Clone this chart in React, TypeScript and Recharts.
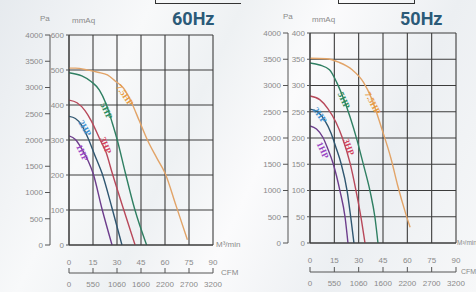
import { LineChart, Line, XAxis, YAxis, CartesianGrid, ReferenceDot } from "recharts";

// axis ticks
const flowTicks = [0, 15, 30, 45, 60, 75, 90];
const cfmLabels = ["0", "550", "1060", "1600", "2200", "2700", "3200"];
const paTicks = [0, 500, 1000, 1500, 2000, 2500, 3000, 3500, 4000];
const mmTicks60 = [0, 100, 200, 300, 400, 500, 600];
const mmTicks50 = [0, 50, 100, 150, 200, 250, 300, 350, 400];

// 60Hz curves, [m3/min, Pa]
const orange60 = [[0, 3370], [4, 3370], [12, 3330], [18, 3290], [24, 3240], [29, 3120], [34, 2990], [39, 2720], [44, 2360], [49, 2000], [55, 1650], [60, 1370], [67, 740], [74, 100]];
const green60 = [[0, 3280], [8, 3220], [14, 3110], [19, 2950], [23, 2700], [27, 2330], [30, 2020], [35, 1400], [41, 690], [48.5, 0]];
const red60 = [[0, 2760], [5, 2710], [10, 2560], [14, 2360], [19.5, 2000], [23, 1780], [27, 1370], [34, 690], [41.3, 0]];
const blue60 = [[0, 2450], [4, 2410], [8, 2280], [12, 2030], [16, 1720], [20.6, 1370], [27, 690], [33.1, 0]];
const purple60 = [[0, 2080], [4, 2010], [8, 1830], [12, 1600], [15, 1370], [20.6, 690], [26.9, 0]];

// 50Hz curves, [m3/min, Pa]
const orange50 = [[0, 3520], [10, 3510], [18, 3440], [26, 3300], [33, 3060], [38, 2750], [44, 2200], [50, 1600], [54, 1100], [59, 560], [61.7, 300]];
const green50 = [[0, 3430], [6, 3390], [12, 3300], [16.6, 3050], [20.3, 2780], [24.7, 2400], [29, 1960], [32.7, 1520], [37, 990], [40, 495], [41.9, 0]];
const red50 = [[0, 2800], [6, 2730], [11, 2560], [16, 2300], [20, 2000], [24.7, 1520], [28.4, 990], [31.4, 495], [33.9, 0]];
const blue50 = [[0, 2550], [5, 2490], [9, 2340], [13, 2090], [16, 1820], [19.1, 1520], [22.9, 990], [25.1, 495], [27.1, 0]];
const purple50 = [[0, 2230], [4, 2170], [8, 2010], [11, 1790], [14.2, 1520], [18.5, 990], [21.6, 495], [23.4, 0]];

// curve tags, [m3/min, Pa, angle]
const tags = ["7.5HP", "5HP", "3HP", "2HP", "1HP"];
const tagSpots60 = [[35, 2860, 55], [23.5, 2560, 65], [23, 1900, 68], [10, 2230, 60], [8.5, 1760, 65]];
const tagSpots50 = [[38.8, 2670, 62], [21, 2720, 65], [24, 1830, 70], [6.2, 2440, 55], [8, 1770, 65]];

const lineColors = ["#e2a468", "#2f7f62", "#b8485a", "#2f5670", "#6d3d8c"];
const tagColors = ["#e89a40", "#2a8a5a", "#d2405a", "#3a8fd0", "#9a44c4"];

const toPoints = (pairs: number[][]) => pairs.map(([q, p]) => ({ q, p }));

const font = "Liberation Sans Narrow, Liberation Sans, Arial, sans-serif";
const tickStyle = { fill: "#8a8a8a", fontSize: 8, fontFamily: font };
const axisColor = "#555";

function CfmTick(props: any) {
  const { x, y, index } = props;
  return (
    <g>
      <line x1={x} x2={x} y1={y - 5} y2={y} stroke={axisColor} strokeWidth={1} />
      <text x={x} y={y + 14} textAnchor="middle" {...tickStyle}>
        {cfmLabels[index]}
      </text>
    </g>
  );
}

interface FanChartProps {
  top: number;
  right: number;
  mmWidth: number;
  qHeight: number;
  cfmHeight: number;
  mmTicks: number[];
  curves: number[][][];
  tagSpots: number[][];
}

// axis ids sort alphabetically: the "a_" axes sit next to the plot
function FanChart({ top, right, mmWidth, qHeight, cfmHeight, mmTicks, curves, tagSpots }: FanChartProps) {
  return (
    <LineChart width={238} height={292} margin={{ top, right, left: 0, bottom: 0 }}>
      <CartesianGrid xAxisId="a_q" yAxisId="a_mm" stroke="#3c3c3c" strokeWidth={1.1} />
      <XAxis
        xAxisId="a_q"
        type="number"
        dataKey="q"
        domain={[0, 90]}
        ticks={flowTicks}
        height={qHeight}
        tickSize={0}
        tickMargin={14}
        tick={tickStyle}
        axisLine={{ stroke: "#3c3c3c" }}
        allowDataOverflow
      />
      <XAxis
        xAxisId="b_cfm"
        type="number"
        dataKey="q"
        domain={[0, 90]}
        ticks={flowTicks}
        height={cfmHeight}
        tickSize={0}
        tickMargin={0}
        tickLine={false}
        tick={<CfmTick />}
        axisLine={{ stroke: axisColor }}
        allowDataOverflow
      />
      <YAxis
        yAxisId="a_mm"
        type="number"
        domain={[mmTicks[0], mmTicks[mmTicks.length - 1]]}
        ticks={mmTicks}
        width={mmWidth}
        tickSize={3}
        tickMargin={2}
        tick={tickStyle}
        tickLine={{ stroke: axisColor }}
        axisLine={{ stroke: "#3c3c3c" }}
        allowDataOverflow
      />
      <YAxis
        yAxisId="b_pa"
        type="number"
        domain={[0, 4000]}
        ticks={paTicks}
        width={50}
        tickSize={5}
        tickMargin={2}
        tick={tickStyle}
        tickLine={{ stroke: axisColor }}
        axisLine={{ stroke: axisColor }}
        allowDataOverflow
      />
      {curves.map((c, i) => (
        <Line
          key={i}
          xAxisId="a_q"
          yAxisId="b_pa"
          data={toPoints(c)}
          dataKey="p"
          type="monotone"
          stroke={lineColors[i]}
          strokeWidth={1.4}
          dot={false}
          isAnimationActive={false}
        />
      ))}
      {tagSpots.map(([q, p, angle], i) => (
        <ReferenceDot
          key={"t" + i}
          xAxisId="a_q"
          yAxisId="b_pa"
          x={q}
          y={p}
          r={0}
          stroke="none"
          label={{ value: tags[i], angle, fill: tagColors[i], fontSize: 9, fontWeight: 700, position: "center" }}
        />
      ))}
    </LineChart>
  );
}

const small: React.CSSProperties = {
  position: "absolute",
  fontSize: 8,
  color: "#8a8a8a",
  fontFamily: font,
  whiteSpace: "nowrap",
  lineHeight: "10px",
};
const title: React.CSSProperties = {
  position: "absolute",
  fontSize: 18,
  fontWeight: 700,
  color: "#2b5a78",
  fontFamily: "Roboto, Liberation Sans, sans-serif",
  lineHeight: "18px",
};

export default function App() {
  return (
    <div
      style={{
        position: "relative",
        width: 476,
        height: 292,
        overflow: "hidden",
        background: "linear-gradient(115deg, #e6eaee 0%, #f8f9fa 25%, #eef1f3 40%, #fbfbfc 55%, #eceff2 75%, #f7f8f9 100%)",
      }}
    >
      <style>{`body{margin:0}`}</style>
      <div style={{ position: "absolute", left: 0, top: 0 }}>
        <FanChart top={35} right={25} mmWidth={19} qHeight={28} cfmHeight={19} mmTicks={mmTicks60}
          curves={[orange60, green60, red60, blue60, purple60]} tagSpots={tagSpots60} />
      </div>
      <div style={{ position: "absolute", left: 238, top: 0 }}>
        <FanChart top={33} right={20} mmWidth={22} qHeight={29} cfmHeight={20} mmTicks={mmTicks50}
          curves={[orange50, green50, red50, blue50, purple50]} tagSpots={tagSpots50} />
      </div>

      <div style={{ position: "absolute", left: 155, top: -2, width: 85, height: 5, borderBottom: "1.5px solid #333", borderLeft: "1px solid #333" }} />
      <div style={{ position: "absolute", left: 338, top: -2, width: 75, height: 5, borderBottom: "1.5px solid #333", borderLeft: "1px solid #333", borderRight: "1px solid #333" }} />

      <div style={{ ...title, left: 172, top: 10 }}>60Hz</div>
      <div style={{ ...title, left: 400, top: 10 }}>50Hz</div>

      <div style={{ ...small, left: 40, top: 14 }}>Pa</div>
      <div style={{ ...small, left: 72, top: 16 }}>mmAq</div>
      <div style={{ ...small, left: 283, top: 12 }}>Pa</div>
      <div style={{ ...small, left: 312, top: 15 }}>mmAq</div>

      <div style={{ ...small, left: 216, top: 240 }}>M³/min</div>
      <div style={{ ...small, left: 221, top: 268 }}>CFM</div>
      <div style={{ ...small, left: 457, top: 238, fontSize: 6.5 }}>M³/min</div>
      <div style={{ ...small, left: 461, top: 267, fontSize: 7 }}>CFM</div>
    </div>
  );
}
